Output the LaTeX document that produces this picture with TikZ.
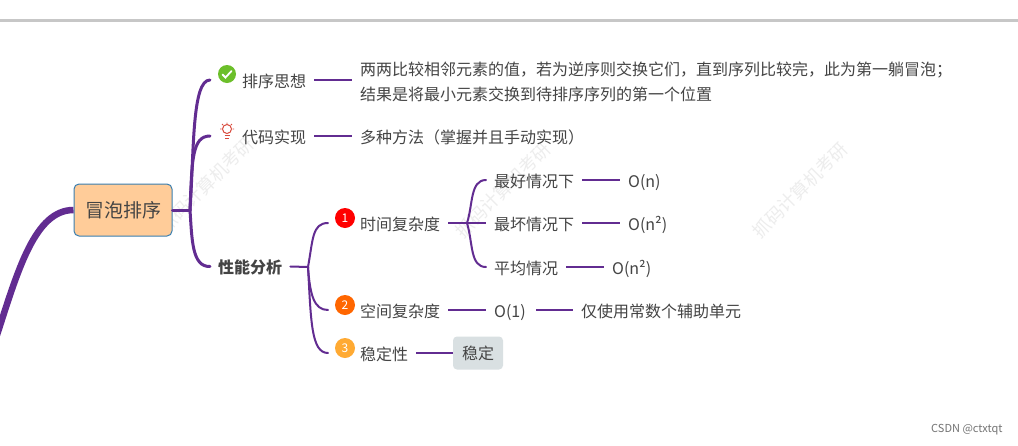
\documentclass[tikz,border=0pt]{standalone}
\usepackage{fontspec}
\setmainfont{Noto Sans CJK SC}
\usetikzlibrary{positioning,calc}
\definecolor{branchpurple}{HTML}{622C91}
\definecolor{labelgray}{HTML}{444444}
\definecolor{rootfill}{HTML}{FFCC99}
\definecolor{rootline}{HTML}{3A7FB0}
\definecolor{tagfill}{HTML}{D9E0E2}
\definecolor{okgreen}{HTML}{6CBF2A}
\definecolor{bulbred}{HTML}{D94A3D}
\definecolor{badgeorange}{HTML}{FF6600}
\definecolor{badgeamber}{HTML}{FFAA33}
\begin{document}
\begin{tikzpicture}[x=1pt, y=-1pt, every node/.style={font=\fontsize{16}{25}\selectfont, text=labelgray},
    topic/.style={anchor=west, inner xsep=8pt, inner ysep=0pt, text height=16pt, text depth=2pt},
    stem/.style={branchpurple, line width=2pt},
    limb/.style={branchpurple, line width=3pt, line cap=round},
    twig/.style={branchpurple, line width=2pt, line cap=round},
    badge/.style={circle, inner sep=0pt, minimum size=20pt, font=\fontsize{12}{12}\selectfont, text=white},
    watermark/.style={rotate=45, text=black!7, font=\fontsize{18}{18}\selectfont}]
            \useasboundingbox (0,0) rectangle (1018,445);
            \fill[white] (0,0) rectangle (1018,445);
            \fill[black!22] (0,18.5) rectangle (1018,21.5);

            \node[watermark] (wmleft) at (206,185) {抓码计算机考研};
            \node[watermark] (wmmid) at (503,190) {抓码计算机考研};
            \node[watermark] (wmright) at (800,190) {抓码计算机考研};

            \node[draw=rootline, fill=rootfill, rounded corners=5pt, line width=1pt, minimum width=98pt, minimum height=52pt, inner sep=0pt, font=\fontsize{19}{19}\selectfont] (bubble) at (123,210) {冒泡排序};
            \coordinate (trunkend) at (-3,335);
            \draw[branchpurple, line width=6.5pt] (bubble.west) .. controls (35,210) and (18,270) .. (trunkend);

            \node[topic] (idea) at (234,80) {排序思想};
            \node[topic] (code) at (234,136) {代码实现};
            \node[topic, font=\fontsize{16}{16}\selectfont\bfseries] (perf) at (210,266.5) {性能分析};
            \coordinate (hubmain) at (190,210);
            \coordinate (ideaend) at (210,80);
            \coordinate (codeend) at (210,136);
            \draw[limb] (bubble.east) -- (hubmain);
            \draw[limb] (hubmain) .. controls (194,150) and (192,80) .. (ideaend);
            \draw[limb] (hubmain) .. controls (192,160) and (192,136) .. (codeend);
            \draw[limb] (hubmain) .. controls (192,240) and (192,267) .. (perf.west);

            \node[circle, fill=okgreen, inner sep=0pt, minimum size=18pt] (okicon) at (227,74) {};
            \draw[white, line width=1.8pt, line cap=round] (222.5,74.5) -- (225.5,77.5) -- (231.5,71);

            \node[circle, draw=bulbred, line width=1pt, inner sep=0pt, minimum size=9pt] (bulb) at (227,129) {};
            \draw[bulbred, line width=1pt] (224.5,135.5) -- (229.5,135.5) (225,138) -- (229,138);
            \draw[bulbred, line width=0.8pt] (227,122.5) -- (227,124) (220,129) -- (221.5,129) (232.5,129) -- (234,129) (222,124) -- (223,125) (232,124) -- (231,125);

            \node[anchor=west, inner xsep=8pt, align=left] (ideatext) at (352,81.5) {两两比较相邻元素的值，若为逆序则交换它们，直到序列比较完，此为第一躺冒泡；\\结果是将最小元素交换到待排序序列的第一个位置};
            \node[topic] (codetext) at (352,136) {多种方法（掌握并且手动实现）};
            \draw[stem] (idea.east) -- (idea.east -| ideatext.west);
            \draw[stem] (code.east) -- (codetext.west);

            \node[topic] (timec) at (352,223) {时间复杂度};
            \node[topic] (spacec) at (352,310) {空间复杂度};
            \node[topic] (stable) at (352,353) {稳定性};
            \node[badge, fill=red] (one) at (345,218) {1};
            \node[badge, fill=badgeorange] (two) at (345,305) {2};
            \node[badge, fill=badgeamber] (three) at (345,348) {3};
            \coordinate (hubperf) at (308,267);
            \coordinate (timeend) at (328,223);
            \coordinate (spaceend) at (328,310);
            \coordinate (stableend) at (328,353);
            \draw[twig] (perf.east) -- (hubperf);
            \draw[twig] (hubperf) .. controls (313,240) and (312,223) .. (timeend);
            \draw[twig] (hubperf) .. controls (310,295) and (314,310) .. (spaceend);
            \draw[twig] (hubperf) .. controls (311,320) and (311,353) .. (stableend);

            \node[topic] (best) at (486,180) {最好情况下};
            \node[topic] (worst) at (486,223) {最坏情况下};
            \node[topic] (avg) at (486,267) {平均情况};
            \node[topic] (bestval) at (620,180) {O(n)};
            \node[topic] (worstval) at (620,223) {O(n²)};
            \node[topic] (avgval) at (604,267) {O(n²)};
            \coordinate (hubtime) at (467,223);
            \draw[stem] (timec.east) -- (worst.west);
            \draw[twig] (hubtime) .. controls (473,205) and (470,180) .. (best.west);
            \draw[twig] (hubtime) .. controls (473,243) and (470,267) .. (avg.west);
            \draw[stem] (best.east) -- (bestval.west);
            \draw[stem] (worst.east) -- (worstval.west);
            \draw[stem] (avg.east) -- (avgval.west);

            \node[topic, text width=34pt] (spaceval) at (486,310) {O(1)};
            \node[topic] (spacetext) at (573,310) {仅使用常数个辅助单元};
            \draw[stem] (spacec.east) -- (spaceval.west);
            \draw[stem] (spaceval.east) -- (spacetext.west);

            \node[fill=tagfill, rounded corners=4pt, minimum width=50pt, minimum height=33pt, inner sep=0pt] (stabletag) at (478,353) {稳定};
            \draw[stem] (stable.east) -- (stabletag.west);

            \node[anchor=east, text=black!55, font=\fontsize{11}{11}\selectfont] (credit) at (1006,430) {CSDN @ctxtqt};
        \end{tikzpicture}
\end{document}
